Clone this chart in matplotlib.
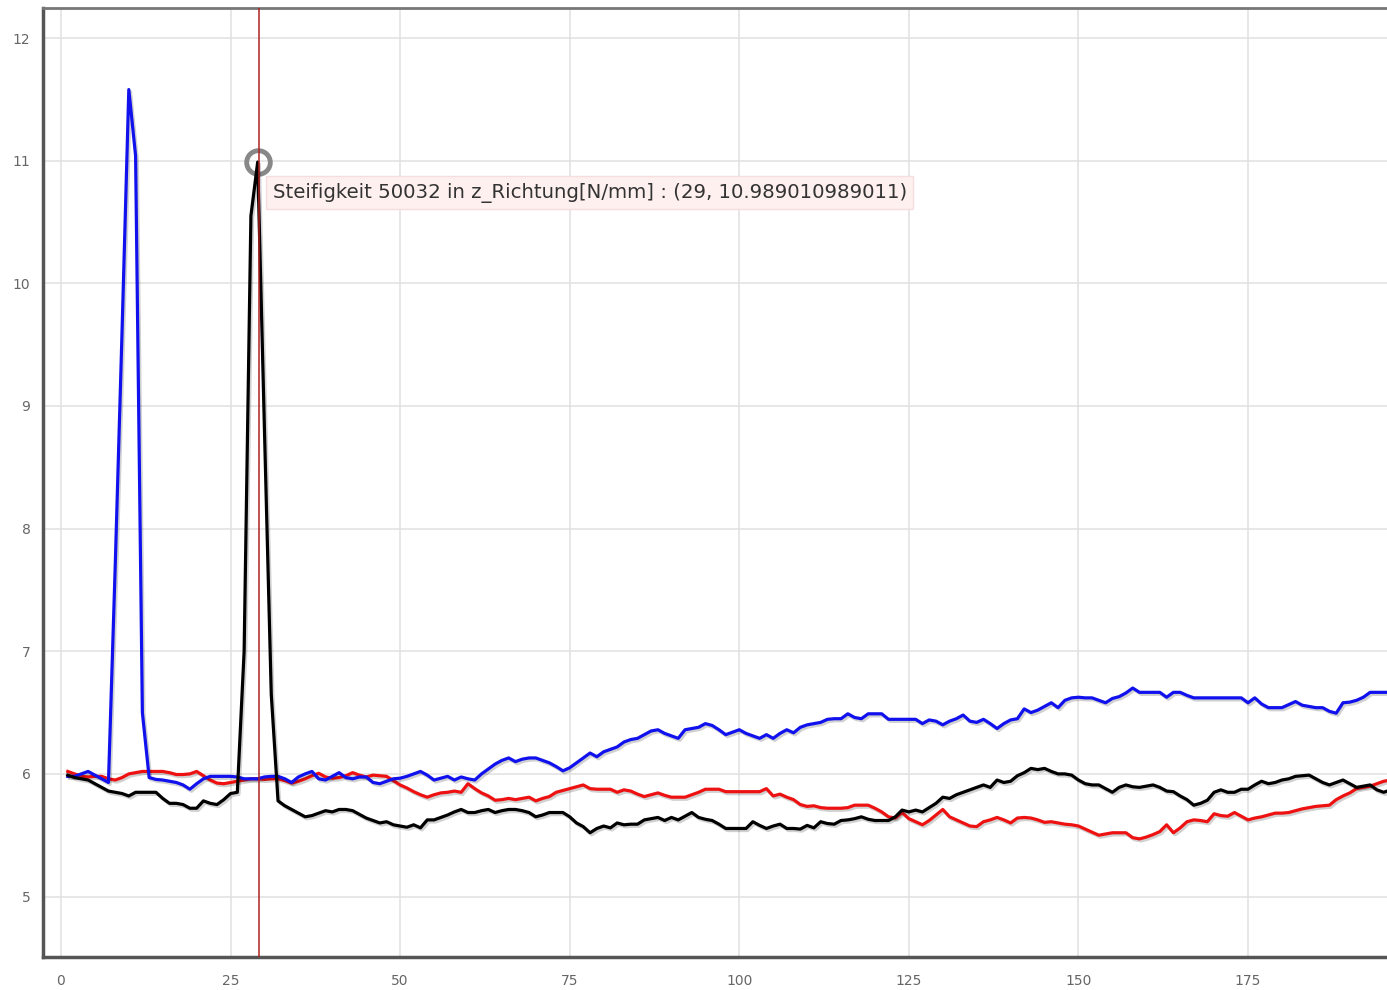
import numpy as np
import matplotlib
matplotlib.use('Agg')
import matplotlib.pyplot as plt
import matplotlib.patheffects as pe

# values, one per step (x = 1, 2, 3, ...)
black_vals = [
    5.99, 5.97, 5.96, 5.95, 5.92, 5.89, 5.86, 5.85, 5.84, 5.82,
    5.85, 5.85, 5.85, 5.85, 5.80, 5.76, 5.76, 5.75, 5.72, 5.72,
    5.78, 5.76, 5.75, 5.79, 5.84, 5.85, 7.00, 10.55, 10.989010989011, 8.80,
    6.65, 5.78, 5.74, 5.71, 5.68, 5.65, 5.66, 5.68, 5.70, 5.69,
    5.71, 5.71, 5.70, 5.67, 5.64, 5.62, 5.60, 5.61, 5.585, 5.575,
    5.565, 5.585, 5.56, 5.625, 5.625, 5.645, 5.665, 5.69, 5.71, 5.685,
    5.685, 5.70, 5.71, 5.685, 5.70, 5.71, 5.71, 5.70, 5.685, 5.65,
    5.665, 5.685, 5.685, 5.685, 5.65, 5.60, 5.57, 5.52, 5.555, 5.575,
    5.56, 5.60, 5.585, 5.59, 5.59, 5.625, 5.635, 5.645, 5.62, 5.645,
    5.625, 5.655, 5.685, 5.645, 5.63, 5.62, 5.59, 5.555, 5.555, 5.555,
    5.555, 5.61, 5.58, 5.555, 5.575, 5.59, 5.555, 5.555, 5.55, 5.58,
    5.56, 5.61, 5.595, 5.59, 5.62, 5.625, 5.635, 5.65, 5.63, 5.62,
    5.62, 5.62, 5.65, 5.705, 5.69, 5.705, 5.69, 5.725, 5.76, 5.81,
    5.80, 5.83, 5.85, 5.87, 5.89, 5.91, 5.89, 5.95, 5.93, 5.94,
    5.985, 6.01, 6.045, 6.035, 6.045, 6.02, 6.00, 6.00, 5.99, 5.95,
    5.92, 5.91, 5.91, 5.88, 5.85, 5.89, 5.91, 5.895, 5.89, 5.90,
    5.91, 5.89, 5.86, 5.855, 5.82, 5.79, 5.745, 5.76, 5.785, 5.85,
    5.87, 5.85, 5.85, 5.875, 5.875, 5.91, 5.94, 5.92, 5.93, 5.95,
    5.96, 5.98, 5.985, 5.99, 5.96, 5.93, 5.91, 5.93, 5.95, 5.92,
    5.89, 5.90, 5.91, 5.87, 5.85, 5.87]

blue_vals = [
    5.98, 5.98, 6.00, 6.02, 5.99, 5.96, 5.93, 7.70, 9.60, 11.58,
    11.04, 6.50, 5.97, 5.955, 5.95, 5.94, 5.93, 5.91, 5.875, 5.92,
    5.96, 5.98, 5.98, 5.98, 5.98, 5.975, 5.96, 5.96, 5.96, 5.975,
    5.98, 5.98, 5.96, 5.93, 5.975, 6.00, 6.02, 5.96, 5.95, 5.98,
    6.01, 5.97, 5.96, 5.975, 5.975, 5.93, 5.92, 5.94, 5.96, 5.965,
    5.98, 6.00, 6.02, 5.99, 5.95, 5.965, 5.98, 5.95, 5.975, 5.96,
    5.95, 6.00, 6.04, 6.08, 6.11, 6.13, 6.10, 6.12, 6.13, 6.13,
    6.11, 6.09, 6.06, 6.025, 6.05, 6.09, 6.13, 6.17, 6.14, 6.18,
    6.20, 6.22, 6.26, 6.28, 6.29, 6.32, 6.35, 6.36, 6.33, 6.31,
    6.29, 6.36, 6.37, 6.38, 6.41, 6.395, 6.36, 6.32, 6.34, 6.36,
    6.33, 6.31, 6.29, 6.32, 6.29, 6.33, 6.36, 6.335, 6.38, 6.40,
    6.41, 6.42, 6.445, 6.45, 6.45, 6.49, 6.46, 6.45, 6.49, 6.49,
    6.49, 6.445, 6.445, 6.445, 6.445, 6.445, 6.41, 6.44, 6.43, 6.40,
    6.43, 6.45, 6.48, 6.43, 6.42, 6.445, 6.41, 6.37, 6.41, 6.44,
    6.45, 6.53, 6.50, 6.52, 6.55, 6.58, 6.54, 6.60, 6.62, 6.625,
    6.62, 6.62, 6.60, 6.58, 6.615, 6.63, 6.66, 6.70, 6.665, 6.665,
    6.665, 6.665, 6.625, 6.665, 6.665, 6.64, 6.62, 6.62, 6.62, 6.62,
    6.62, 6.62, 6.62, 6.62, 6.58, 6.62, 6.57, 6.54, 6.54, 6.54,
    6.565, 6.59, 6.56, 6.55, 6.54, 6.54, 6.51, 6.495, 6.58, 6.585,
    6.60, 6.625, 6.665, 6.665, 6.665, 6.665]

red_vals = [
    6.02, 6.00, 5.98, 5.975, 5.98, 5.98, 5.96, 5.95, 5.97, 6.00,
    6.01, 6.02, 6.02, 6.02, 6.02, 6.01, 5.995, 5.995, 6.00, 6.02,
    5.985, 5.95, 5.925, 5.92, 5.93, 5.94, 5.95, 5.96, 5.96, 5.955,
    5.96, 5.96, 5.945, 5.925, 5.94, 5.96, 5.985, 6.005, 5.975, 5.965,
    5.97, 5.985, 6.01, 5.99, 5.975, 5.99, 5.985, 5.98, 5.945, 5.91,
    5.885, 5.855, 5.83, 5.81, 5.83, 5.845, 5.85, 5.86, 5.85, 5.92,
    5.88, 5.845, 5.82, 5.785, 5.79, 5.80, 5.79, 5.80, 5.81, 5.78,
    5.80, 5.815, 5.85, 5.865, 5.88, 5.895, 5.91, 5.88, 5.875, 5.875,
    5.875, 5.85, 5.87, 5.86, 5.835, 5.815, 5.83, 5.845, 5.825, 5.81,
    5.81, 5.81, 5.83, 5.85, 5.875, 5.875, 5.875, 5.855, 5.855, 5.855,
    5.855, 5.855, 5.855, 5.88, 5.82, 5.835, 5.81, 5.79, 5.75, 5.735,
    5.74, 5.725, 5.72, 5.72, 5.72, 5.725, 5.745, 5.745, 5.745, 5.72,
    5.69, 5.65, 5.64, 5.685, 5.635, 5.61, 5.585, 5.62, 5.665, 5.71,
    5.65, 5.625, 5.60, 5.575, 5.57, 5.61, 5.625, 5.645, 5.625, 5.60,
    5.64, 5.645, 5.64, 5.625, 5.605, 5.61, 5.60, 5.59, 5.585, 5.575,
    5.55, 5.525, 5.50, 5.51, 5.52, 5.52, 5.52, 5.48, 5.47, 5.485,
    5.505, 5.53, 5.585, 5.52, 5.56, 5.61, 5.625, 5.62, 5.61, 5.675,
    5.66, 5.655, 5.685, 5.655, 5.625, 5.64, 5.65, 5.665, 5.68, 5.68,
    5.685, 5.70, 5.715, 5.725, 5.735, 5.74, 5.745, 5.79, 5.82, 5.845,
    5.88, 5.89, 5.90, 5.92, 5.94, 5.95]

x_ticks = [0, 25, 50, 75, 100, 125, 150, 175]
y_ticks = [5, 6, 7, 8, 9, 10, 11, 12]

hl_x = 29
hl_y = 10.989010989011
tip_text = 'Steifigkeit 50032 in z_Richtung[N/mm] : (29, 10.989010989011)'

fig = plt.figure(figsize=(13.87, 9.90), dpi=100)
# right edge of the plot area lies outside the picture (cropped screenshot)
ax = fig.add_axes([43/1387, 33/990, 1374.6/1387, 949/990])
ax.set_xlim(-2.65, 200)
ax.set_ylim(4.507, 12.245)

ax.set_xticks(x_ticks)
ax.set_yticks(y_ticks)
ax.grid(True, color='#e0e0e0', linewidth=1.1)
ax.set_axisbelow(True)
ax.tick_params(length=0, labelsize=10, labelcolor='#666666')
ax.tick_params(axis='x', pad=12)
ax.tick_params(axis='y', pad=9)

for side in ['left', 'bottom', 'top']:
    ax.spines[side].set_color('#555555')
    ax.spines[side].set_linewidth(2.5)
ax.spines['top'].set_color('#777777')
ax.spines['top'].set_linewidth(2)
ax.spines['right'].set_visible(False)

shadow = [pe.SimpleLineShadow(offset=(1.2, -1.5), shadow_color='k', alpha=0.18), pe.Normal()]

xs = np.arange(1, len(black_vals) + 1)
ax.plot(xs, red_vals, color='#ee1111', linewidth=2.3, path_effects=shadow, zorder=3)
ax.plot(xs, blue_vals, color='#1111ee', linewidth=2.3, path_effects=shadow, zorder=4)

# highlight ring and cursor line
ax.plot([hl_x], [hl_y], marker='o', markersize=17, markerfacecolor='none',
        markeredgecolor='#888888', markeredgewidth=3.5, zorder=4.5)
ax.plot(xs, black_vals, color='#000000', linewidth=2.3, path_effects=shadow, zorder=5)
ax.axvline(hl_x + 0.2, color='#b02020', linewidth=1.1, zorder=6)

ax.text(hl_x + 2.2, hl_y - 0.25, tip_text, fontsize=14.2, color='#333333',
        va='center', ha='left', zorder=7,
        bbox=dict(boxstyle='square,pad=0.32', facecolor='#fdf0ef', edgecolor='#f6dede', linewidth=1))

fig.savefig('out.png', dpi=100)
